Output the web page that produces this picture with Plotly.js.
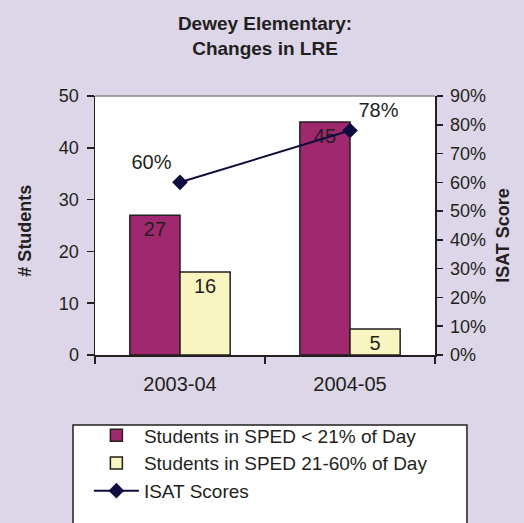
<!DOCTYPE html>
<html>
<head>
<meta charset="utf-8">
<script src="https://cdn.plot.ly/plotly-3.0.1.min.js"></script>
<style>html,body{margin:0;padding:0;background:#DDD6E8;}#chart{width:524px;height:523px;}</style>
</head>
<body>
<div id="chart"></div>
<script>
var categories = ["2003-04", "2004-05"];
var spedUnder21 = [27, 45];
var sped21to60 = [16, 5];
var isatScores = [0.60, 0.78];
var isatLabels = ["60%", "78%"];
var leftTicks = [0, 10, 20, 30, 40, 50];
var rightTicks = [0, 0.1, 0.2, 0.3, 0.4, 0.5, 0.6, 0.7, 0.8, 0.9];

var FONT = "Arial, 'Liberation Sans', sans-serif";
var TXT = "#231F20";

var traces = [
  {
    type: "bar", x: categories, y: spedUnder21, name: "Students in SPED < 21% of Day",
    marker: {color: "#A0286E", line: {color: "#231F20", width: 1.5}},
    text: spedUnder21.map(String), textposition: "inside", insidetextanchor: "end", textangle: 0,
    constraintext: "none", textfont: {family: FONT, size: 20, color: TXT}, hoverinfo: "skip"
  },
  {
    type: "bar", x: categories, y: sped21to60, name: "Students in SPED 21-60% of Day",
    marker: {color: "#F8F5C0", line: {color: "#231F20", width: 1.5}},
    text: sped21to60.map(String), textposition: "inside", insidetextanchor: "end", textangle: 0,
    constraintext: "none", textfont: {family: FONT, size: 20, color: TXT}, hoverinfo: "skip"
  },
  {
    type: "scatter", mode: "lines+markers+text", x: categories, y: isatScores, yaxis: "y2",
    name: "ISAT Scores",
    line: {color: "#0D0D40", width: 2},
    marker: {symbol: "diamond", size: 12, color: "#0D0D40"},
    text: isatLabels, textposition: ["top left", "top right"],
    textfont: {family: FONT, size: 20, color: TXT}, hoverinfo: "skip"
  }
];

var layout = {
  width: 524, height: 523,
  paper_bgcolor: "#DDD6E8", plot_bgcolor: "#FFFFFF",
  margin: {l: 95, r: 89, t: 96, b: 168},
  font: {family: FONT, color: TXT},
  title: {
    text: "<b>Dewey Elementary:</b><br><b>Changes in LRE</b>",
    font: {family: FONT, size: 19, color: TXT},
    x: 0.5, xref: "paper", y: 0.942, yref: "container", yanchor: "top"
  },
  barmode: "group", bargap: 0.41, bargroupgap: 0,
  showlegend: true,
  legend: {
    x: -0.018, y: -0.6, xanchor: "left", yanchor: "bottom",
    bgcolor: "rgba(0,0,0,0)", borderwidth: 0,
    font: {family: FONT, size: 19, color: TXT},
    traceorder: "normal", itemwidth: 45
  },
  xaxis: {
    type: "category", showline: true, linecolor: "#231F20", linewidth: 1.5,
    ticks: "outside", ticklen: 7, tickcolor: "#231F20", tickwidth: 1.5,
    tickson: "boundaries", tickfont: {family: FONT, size: 20, color: TXT},
    ticklabelstandoff: 10, showgrid: false, zeroline: false
  },
  yaxis: {
    range: [0, 50], tickvals: leftTicks, showline: true, linecolor: "#231F20", linewidth: 1.5,
    ticks: "outside", ticklen: 7, tickcolor: "#231F20", tickwidth: 1.5, ticklabelstandoff: 4,
    tickfont: {family: FONT, size: 18, color: TXT}, showgrid: false, zeroline: false
  },
  yaxis2: {
    range: [0, 0.9], tickvals: rightTicks, tickformat: ".0%", overlaying: "y", side: "right",
    showline: true, linecolor: "#231F20", linewidth: 1.5,
    ticks: "outside", ticklen: 6, tickcolor: "#231F20", tickwidth: 1.5, ticklabelstandoff: 4,
    tickfont: {family: FONT, size: 18, color: TXT}, showgrid: false, zeroline: false
  },
  shapes: [
    {type: "line", xref: "paper", yref: "paper", x0: 0, x1: 1, y0: 1, y1: 1,
     line: {color: "#8A8A8A", width: 1.5}, layer: "above"},
    {type: "rect", xref: "paper", yref: "paper", x0: -0.0647, x1: 1.094, y0: -0.27, y1: -0.7,
     fillcolor: "#FFFFFF", line: {color: "#231F20", width: 1.5}, layer: "below"}
  ],
  annotations: [
    {text: "<b># Students</b>", xref: "paper", yref: "paper", x: -0.206, y: 0.48,
     xanchor: "center", yanchor: "middle",
     textangle: -90, showarrow: false, font: {family: FONT, size: 18, color: TXT}},
    {text: "<b>ISAT Score</b>", xref: "paper", yref: "paper", x: 1.2, y: 0.46,
     xanchor: "center", yanchor: "middle",
     textangle: -90, showarrow: false, font: {family: FONT, size: 18, color: TXT}}
  ]
};

Plotly.newPlot("chart", traces, layout, {displayModeBar: false, staticPlot: true});
</script>
</body>
</html>
